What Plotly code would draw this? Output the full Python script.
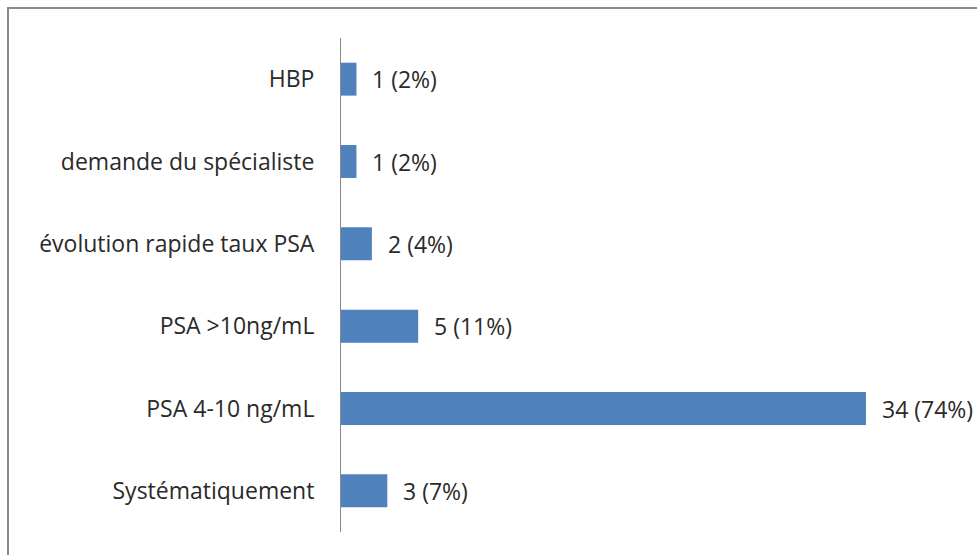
import plotly.graph_objects as go

# Motifs of the biopsy request, bottom to top as drawn
categories = [
    "Systématiquement",
    "PSA 4-10 ng/mL",
    "PSA >10ng/mL",
    "évolution rapide taux PSA",
    "demande du spécialiste",
    "HBP",
]
counts = [3, 34, 5, 2, 1, 1]
percents = [7, 74, 11, 4, 2, 2]

labels = [f"{c} ({p}%)" for c, p in zip(counts, percents)]

W, H = 977, 555
ML, MR, MT, MB = 341, 0, 38, 23
PX_PER_UNIT = 15.44
plot_w = W - ML - MR
plot_h = H - MT - MB
x_max = plot_w / PX_PER_UNIT

FONT = "Open Sans"
FSIZE = 23
TEXT_COLOR = "#2a2a2a"

fig = go.Figure()
fig.add_trace(go.Bar(
    x=counts,
    y=categories,
    orientation="h",
    marker=dict(color="#4f81bd", line=dict(width=0)),
    width=0.4,
    hoverinfo="skip",
))

for cat, val, lab in zip(categories, counts, labels):
    fig.add_annotation(
        x=val, y=cat, text=lab, showarrow=False,
        xanchor="left", yanchor="middle", xshift=14,
        font=dict(family=FONT, size=FSIZE, color=TEXT_COLOR),
    )

# outer chart frame (right and bottom edges fall outside the view)
fig.add_shape(
    type="rect", xref="paper", yref="paper",
    x0=(8 - ML) / plot_w, x1=1.2,
    y0=-0.3, y1=(H - MB - 8) / plot_h,
    line=dict(color="#8a8a8a", width=2), fillcolor="rgba(0,0,0,0)",
    layer="below",
)

fig.update_layout(
    width=W, height=H,
    margin=dict(l=ML, r=MR, t=MT, b=MB),
    paper_bgcolor="white", plot_bgcolor="white",
    showlegend=False,
    xaxis=dict(
        range=[0, x_max], showgrid=False, zeroline=False,
        showticklabels=False, showline=False, fixedrange=True,
    ),
    yaxis=dict(
        categoryorder="array", categoryarray=categories,
        showgrid=False, zeroline=False,
        showline=True, linecolor="#8a8a8a", linewidth=1,
        ticks="", ticklabelstandoff=21,
        tickfont=dict(family=FONT, size=FSIZE, color=TEXT_COLOR),
    ),
)

fig.write_html("out.html")
